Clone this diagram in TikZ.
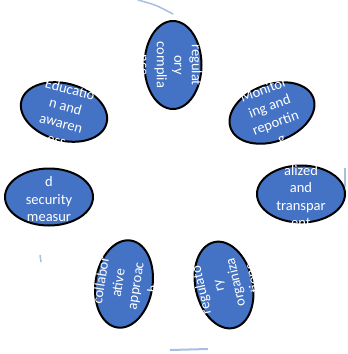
\documentclass[tikz,border=0pt]{standalone}
\usepackage{fontspec}
\setmainfont{Carlito}
\usetikzlibrary{shapes.geometric}
\definecolor{officeblue}{HTML}{4472C4}
\definecolor{paleblue}{HTML}{A9BEE4}

\begin{document}
\begin{tikzpicture}[x=1pt, y=-1pt,
	bubble/.style={ellipse, draw=black, line width=2pt, fill=officeblue,
		minimum width=88pt, minimum height=57pt, inner sep=0pt},
	words/.style={text=white, align=center, inner sep=0pt,
		font=\fontsize{14.5}{17.5}\selectfont},
	turned/.style={rotate=#1, yshift=-2.5pt}]
	% Рамка рисунка
	\useasboundingbox (0,0) rectangle (348,354);
	
	% Бледные остатки круговой стрелки
	\draw[paleblue, line width=1.5pt, line cap=round] (138,0) .. controls (156,5) .. (173,14);
	\draw[paleblue, line width=2pt] (345,168) -- (345,187);
	\draw[paleblue, line width=2pt] (170,350) -- (208,349);
	\draw[paleblue, line width=1.5pt] (40,255) -- (41,262);
	
	% Эллипсы
	\node[bubble, rotate=-90] (compliance) at (173,65) {};
	\node[bubble, rotate=20] (monitoring) at (272,113) {};
	\node[bubble] (transparent) at (301,194) {};
	\node[bubble, rotate=103] (organizations) at (224,285) {};
	\node[bubble, rotate=81] (collaborative) at (124,284) {};
	\node[bubble] (security) at (49,197) {};
	\node[bubble, rotate=-15] (education) at (64,112) {};
	
	% Подписи (обрезанные)
	\node[words, turned=-90] (compliance-t) at (compliance) {regulat\\ory\\complia\\nce};
	\node[words, turned=20] (monitoring-t) at (monitoring) {Monitor\\ing and\\reportin\\g};
	\node[words, turned=0] (transparent-t) at (transparent) {alized\\and\\transpar\\ent};
	\node[words, turned=103] (organizations-t) at (organizations) {regulato\\ry\\organiza\\tions};
	\node[words, turned=81] (collaborative-t) at (collaborative) {collabor\\ative\\approac\\h};
	\node[words, turned=0] (security-t) at (security) {d\\security\\measur};
	\node[words, turned=-15] (education-t) at (education) {Educatio\\n and\\awaren\\ess};
\end{tikzpicture}
\end{document}
